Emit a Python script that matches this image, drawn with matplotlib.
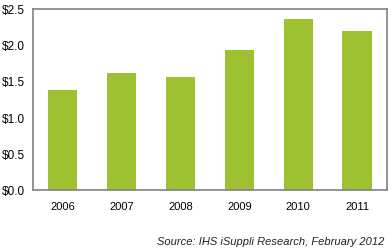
import matplotlib
matplotlib.use("Agg")
import matplotlib.pyplot as plt

years = ["2006", "2007", "2008", "2009", "2010", "2011"]
values = [1.375, 1.61, 1.555, 1.93, 2.355, 2.19]
yticks = [0.0, 0.5, 1.0, 1.5, 2.0, 2.5]
ytick_labels = ["$0.0", "$0.5", "$1.0", "$1.5", "$2.0", "$2.5"]
source = "Source: IHS iSuppli Research, February 2012"

plt.rcParams['font.family'] = ['Liberation Sans', 'DejaVu Sans']
fig = plt.figure(figsize=(3.92, 2.51), dpi=100)
ax = fig.add_axes([33/392, 1 - 190.7/251, (386.7-33)/392, (190.7-9.5)/251])
x = list(range(len(years)))
ax.bar(x, values, width=0.5, color="#9dc130")
ax.set_xlim(-0.5, 5.5)
ax.set_ylim(0, 2.5)
ax.set_xticks(x)
ax.set_xticklabels(years, fontsize=8)
ax.set_yticks(yticks)
ax.set_yticklabels(ytick_labels, fontsize=8.5)
ax.tick_params(length=0, pad=8)
ax.tick_params(axis='y', pad=6)
for s in ax.spines.values():
    s.set_color("#808080")
    s.set_linewidth(1.2)
fig.text(384/392, 1 - 242/251, source, ha="right", va="center", fontsize=8, style="italic", color="#222222")
fig.savefig("out.png", dpi=100)
